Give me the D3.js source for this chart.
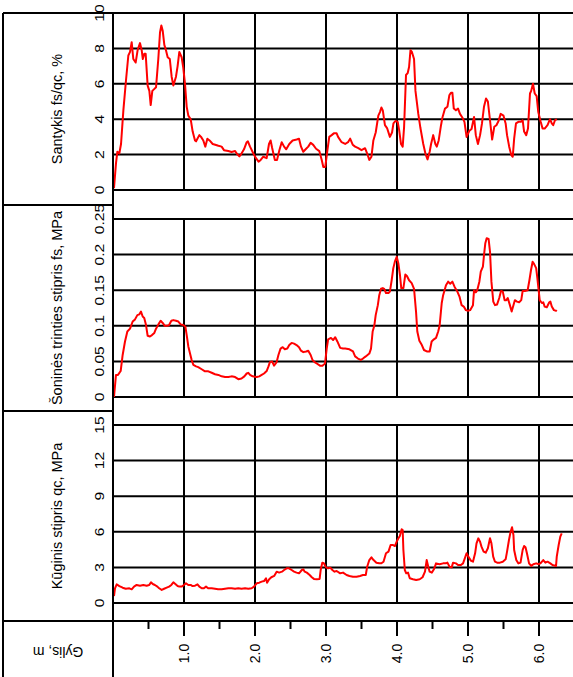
<!DOCTYPE html>
<html>
<head>
<meta charset="utf-8">
<script src="https://cdn.jsdelivr.net/npm/d3@7/dist/d3.min.js"></script>
<style>
  html, body { margin: 0; padding: 0; background: #fff; }
  svg { display: block; }
  text { font-family: "Liberation Sans", Arial, sans-serif; fill: #000; }
</style>
</head>
<body>
<svg id="chart" width="573" height="677"></svg>
<script>
// ---------- DATA ----------
const depthTicks = [1, 2, 3, 4, 5, 6];
const depthMinorTicks = [0.5, 1, 1.5, 2, 2.5, 3, 3.5, 4, 4.5, 5, 5.5, 6];

const ratioTicks = [0, 2, 4, 6, 8, 10];
const fsTicks = [0, 0.05, 0.1, 0.15, 0.2, 0.25];
const qcTicks = [0, 3, 6, 9, 12, 15];

const ratioDepth = [0.014,0.042,0.061,0.089,0.113,0.146,0.183,0.216,0.24,0.263,0.286,0.319,0.347,0.38,0.404,0.42,0.441,0.46,0.488,0.512,0.531,0.554,0.58,0.606,0.638,0.662,0.681,0.70,0.723,0.746,0.77,0.80,0.826,0.85,0.887,0.91,0.934,0.967,0.99,1.014,1.038,1.061,1.094,1.122,1.155,1.17,1.216,1.24,1.272,1.30,1.329,1.36,1.404,1.44,1.484,1.53,1.563,1.624,1.67,1.72,1.742,1.78,1.81,1.845,1.883,1.90,1.93,1.977,2.014,2.05,2.08,2.117,2.164,2.197,2.22,2.24,2.28,2.31,2.343,2.376,2.41,2.44,2.483,2.53,2.587,2.62,2.648,2.68,2.72,2.75,2.784,2.82,2.86,2.906,2.94,2.962,2.99,3.02,3.046,3.08,3.11,3.15,3.17,3.22,3.27,3.31,3.34,3.376,3.41,3.455,3.50,3.55,3.58,3.61,3.64,3.667,3.70,3.737,3.76,3.78,3.80,3.83,3.86,3.90,3.93,3.95,3.98,4.01,4.03,4.056,4.08,4.10,4.127,4.15,4.17,4.19,4.21,4.24,4.26,4.30,4.33,4.37,4.40,4.43,4.46,4.48,4.51,4.54,4.56,4.587,4.62,4.64,4.676,4.71,4.737,4.76,4.78,4.80,4.83,4.86,4.887,4.92,4.95,4.98,5.02,5.05,5.085,5.11,5.14,5.17,5.197,5.225,5.254,5.28,5.31,5.34,5.37,5.40,5.43,5.46,5.50,5.53,5.55,5.58,5.61,5.63,5.65,5.676,5.71,5.74,5.77,5.79,5.82,5.845,5.873,5.89,5.915,5.94,5.967,5.99,6.024,6.05,6.08,6.12,6.155,6.18,6.20,6.225,6.25];
const ratioValue = [0.1,1.5,2.16,2.06,2.6,4.5,6.2,7.6,7.8,8.35,7.4,7.2,7.9,8.3,7.9,7.4,7.7,7.7,5.9,5.6,4.8,5.6,5.7,5.8,7.4,8.9,9.3,9.0,8.2,7.9,7.5,7.4,6.4,5.9,6.4,7.0,7.8,7.5,6.9,6.0,4.7,4.2,4.0,3.3,2.8,2.75,3.1,3.0,2.8,2.45,2.9,2.8,2.6,2.56,2.5,2.45,2.25,2.2,2.15,2.2,2.06,1.9,2.06,2.3,2.7,2.75,2.45,2.06,1.8,1.6,1.7,1.88,1.8,2.6,2.8,2.4,1.7,1.7,2.25,2.7,2.45,2.3,2.6,2.8,2.85,2.9,2.45,2.16,2.33,2.45,2.67,2.55,2.33,2.2,1.7,1.3,1.3,2.25,3.0,3.1,3.2,3.2,3.0,2.7,2.6,2.7,2.9,2.56,2.45,2.36,2.25,2.36,2.06,1.7,1.88,2.8,3.25,4.2,4.4,4.66,4.5,3.66,3.5,3.0,3.25,3.76,3.9,3.85,3.4,2.6,2.45,3.57,6.5,6.6,6.95,7.9,7.8,7.4,5.6,4.3,3.5,2.6,2.06,1.73,2.16,2.6,3.1,2.6,2.45,2.8,3.66,4.1,4.6,4.7,5.35,5.5,5.5,4.6,4.5,4.6,4.3,4.1,3.85,3.0,3.35,3.45,4.13,3.1,2.6,3.1,3.76,4.7,5.17,5.0,3.94,2.85,3.57,3.66,3.9,4.3,4.2,3.76,3.1,2.45,1.97,1.88,2.9,3.76,3.85,3.85,3.94,3.3,3.1,3.47,5.45,5.6,6.0,5.45,5.3,4.4,3.85,3.47,3.47,3.66,4.0,3.76,3.66,3.94,4.0];

const fsDepth = [0.014,0.042,0.07,0.108,0.136,0.169,0.202,0.24,0.277,0.31,0.343,0.37,0.394,0.418,0.44,0.465,0.488,0.52,0.549,0.582,0.606,0.64,0.671,0.70,0.73,0.765,0.79,0.822,0.85,0.887,0.92,0.953,0.99,1.019,1.038,1.061,1.085,1.108,1.132,1.17,1.20,1.249,1.296,1.343,1.39,1.437,1.484,1.53,1.578,1.625,1.67,1.72,1.765,1.81,1.85,1.883,1.906,1.93,1.967,2.024,2.06,2.094,2.127,2.164,2.19,2.21,2.24,2.268,2.305,2.33,2.36,2.39,2.42,2.455,2.483,2.516,2.55,2.585,2.62,2.648,2.68,2.72,2.75,2.784,2.81,2.84,2.87,2.915,2.95,2.986,3.01,3.03,3.07,3.10,3.13,3.16,3.20,3.24,3.27,3.33,3.38,3.41,3.45,3.49,3.52,3.56,3.61,3.634,3.657,3.68,3.70,3.73,3.75,3.775,3.80,3.82,3.845,3.88,3.90,3.925,3.948,3.97,3.996,4.02,4.042,4.06,4.09,4.117,4.14,4.17,4.207,4.24,4.268,4.286,4.315,4.35,4.38,4.42,4.46,4.488,4.52,4.55,4.58,4.60,4.63,4.65,4.69,4.72,4.75,4.78,4.81,4.85,4.88,4.91,4.94,4.97,5.0,5.03,5.07,5.085,5.11,5.13,5.16,5.18,5.21,5.225,5.244,5.263,5.29,5.31,5.33,5.356,5.38,5.41,5.44,5.465,5.49,5.516,5.54,5.56,5.59,5.615,5.64,5.66,5.69,5.72,5.75,5.77,5.80,5.84,5.865,5.887,5.91,5.93,5.96,5.977,5.995,6.01,6.04,6.06,6.08,6.11,6.145,6.16,6.18,6.21,6.24,6.25];
const fsValue = [0,0.031,0.031,0.0365,0.059,0.078,0.092,0.096,0.106,0.109,0.115,0.116,0.12,0.113,0.111,0.101,0.086,0.085,0.087,0.09,0.096,0.102,0.107,0.104,0.10,0.10,0.101,0.107,0.108,0.107,0.106,0.102,0.101,0.099,0.087,0.071,0.061,0.052,0.045,0.043,0.042,0.039,0.036,0.036,0.034,0.032,0.031,0.029,0.028,0.028,0.029,0.028,0.025,0.026,0.029,0.033,0.034,0.031,0.029,0.028,0.029,0.031,0.033,0.0365,0.043,0.049,0.05,0.044,0.049,0.059,0.068,0.07,0.067,0.068,0.073,0.076,0.075,0.073,0.07,0.065,0.063,0.064,0.065,0.059,0.052,0.049,0.047,0.044,0.044,0.047,0.068,0.081,0.083,0.08,0.084,0.078,0.069,0.068,0.068,0.067,0.064,0.057,0.054,0.052,0.054,0.057,0.061,0.068,0.092,0.10,0.115,0.129,0.143,0.152,0.153,0.152,0.146,0.146,0.148,0.164,0.181,0.19,0.197,0.187,0.171,0.153,0.153,0.172,0.17,0.164,0.16,0.152,0.12,0.092,0.079,0.073,0.066,0.064,0.064,0.078,0.081,0.083,0.092,0.10,0.132,0.143,0.157,0.162,0.159,0.162,0.155,0.148,0.141,0.129,0.127,0.122,0.121,0.122,0.129,0.15,0.147,0.15,0.162,0.176,0.183,0.199,0.216,0.223,0.222,0.204,0.162,0.134,0.129,0.13,0.139,0.149,0.148,0.136,0.136,0.139,0.129,0.12,0.129,0.136,0.134,0.133,0.136,0.149,0.149,0.15,0.164,0.178,0.19,0.187,0.181,0.167,0.15,0.136,0.132,0.133,0.127,0.126,0.133,0.134,0.127,0.122,0.121,0.122];

const qcDepth = [0.014,0.028,0.052,0.09,0.136,0.18,0.23,0.263,0.296,0.333,0.38,0.427,0.474,0.51,0.535,0.56,0.59,0.625,0.65,0.686,0.72,0.756,0.79,0.822,0.85,0.878,0.91,0.934,0.967,1.0,1.028,1.06,1.094,1.12,1.155,1.19,1.216,1.25,1.28,1.31,1.34,1.39,1.437,1.48,1.53,1.578,1.625,1.67,1.72,1.765,1.81,1.86,1.906,1.953,1.986,2.024,2.06,2.094,2.127,2.155,2.17,2.2,2.23,2.27,2.305,2.34,2.38,2.41,2.446,2.48,2.516,2.55,2.585,2.62,2.66,2.68,2.70,2.73,2.77,2.80,2.83,2.87,2.91,2.925,2.948,2.97,3.0,3.03,3.06,3.09,3.12,3.15,3.2,3.24,3.29,3.33,3.38,3.43,3.48,3.52,3.56,3.58,3.61,3.64,3.67,3.71,3.75,3.78,3.81,3.845,3.88,3.91,3.94,3.97,3.996,4.02,4.04,4.066,4.08,4.09,4.11,4.13,4.155,4.18,4.225,4.27,4.32,4.36,4.394,4.418,4.44,4.46,4.49,4.52,4.55,4.6,4.65,4.69,4.71,4.74,4.77,4.79,4.83,4.86,4.9,4.93,4.95,4.98,5.0,5.04,5.07,5.1,5.12,5.145,5.17,5.19,5.22,5.25,5.28,5.31,5.33,5.355,5.38,5.41,5.45,5.49,5.53,5.55,5.577,5.6,5.62,5.64,5.65,5.68,5.71,5.74,5.77,5.79,5.81,5.83,5.86,5.89,5.92,5.96,6.0,6.03,6.06,6.09,6.12,6.16,6.19,6.24,6.25,6.277,6.3,6.32];
const qcValue = [0.59,1.24,1.57,1.43,1.29,1.2,1.24,1.15,1.38,1.52,1.46,1.52,1.46,1.52,1.74,1.6,1.52,1.38,1.24,1.1,1.2,1.29,1.38,1.52,1.74,1.6,1.43,1.38,1.38,1.52,1.66,1.52,1.52,1.43,1.46,1.57,1.38,1.24,1.24,1.38,1.24,1.24,1.2,1.15,1.15,1.2,1.24,1.24,1.2,1.24,1.2,1.24,1.2,1.24,1.38,1.66,1.71,1.8,1.85,2.08,1.71,2.0,2.17,2.28,2.64,2.56,2.64,2.78,2.92,2.92,2.78,2.64,2.56,2.5,2.78,2.84,2.64,2.56,2.36,2.17,2.03,2.0,2.03,2.78,3.4,3.35,3.0,2.92,2.98,2.78,2.64,2.7,2.5,2.56,2.36,2.28,2.22,2.22,2.28,2.36,2.36,3.06,3.62,3.85,3.62,3.4,3.35,3.35,3.48,4.19,4.33,4.89,4.89,4.8,5.17,5.45,5.65,6.21,6.15,4.47,2.78,2.5,2.56,2.08,2.0,1.94,2.0,2.17,2.64,3.62,3.06,2.64,2.56,2.84,3.34,3.26,3.34,3.34,3.4,3.06,3.0,3.4,3.34,3.2,3.2,3.34,3.68,4.19,3.96,3.57,3.48,4.19,5.03,5.45,5.17,4.75,4.33,4.24,4.61,5.45,5.03,3.91,3.48,3.4,3.4,3.48,3.68,4.33,5.31,6.0,6.38,5.73,4.47,3.62,3.34,3.4,4.47,4.8,4.7,4.19,3.34,3.12,3.26,3.34,3.26,3.4,3.62,3.4,3.48,3.34,3.2,3.12,3.91,4.89,5.59,5.87];

// ---------- LAYOUT ----------
const W = 573, H = 677;
const plotLeft = 113, plotRight = 574.5, boxLeft = 3;
const axisY = 621;

const x = d3.scaleLinear().domain([0, 6.5]).range([plotLeft, plotRight]);

const panels = [
  { title: "Santykis fs/qc, %", domain: [0, 10], range: [190, 13], ticks: ratioTicks, fmt: d3.format("d"),
    depth: ratioDepth, values: ratioValue, boxTop: 13, boxBottom: 205 },
  { title: "Šoninės trinties stipris fs, MPa", domain: [0, 0.25], range: [397, 219], ticks: fsTicks, fmt: d => String(+d.toFixed(2)),
    depth: fsDepth, values: fsValue, boxTop: 205, boxBottom: 411 },
  { title: "Kūginis stipris qc, MPa", domain: [0, 15], range: [603, 425], ticks: qcTicks, fmt: d3.format("d"),
    depth: qcDepth, values: qcValue, boxTop: 411, boxBottom: 621 }
];

const svg = d3.select("#chart");
const lineColor = "#000";
const gridW = 2;

panels.forEach(p => {
  const y = d3.scaleLinear().domain(p.domain).range(p.range);
  const g = svg.append("g");

  // vertical grid lines (depth) within the panel
  g.selectAll("line.v").data(depthTicks).enter().append("line")
    .attr("x1", d => x(d)).attr("x2", d => x(d))
    .attr("y1", y(p.domain[1])).attr("y2", y(p.domain[0]))
    .attr("stroke", lineColor).attr("stroke-width", gridW);

  // horizontal grid lines
  g.selectAll("line.h").data(p.ticks).enter().append("line")
    .attr("x1", plotLeft).attr("x2", W + 2)
    .attr("y1", d => y(d)).attr("y2", d => y(d))
    .attr("stroke", lineColor).attr("stroke-width", gridW);

  // tick labels (rotated, slightly stretched along the text)
  g.selectAll("text.tick").data(p.ticks).enter().append("text")
    .attr("transform", d => `translate(103.5,${y(d)}) rotate(-90) scale(1.25,1)`)
    .attr("text-anchor", "middle")
    .attr("font-size", 12.5)
    .text(p.fmt);

  // axis title
  g.append("text")
    .attr("transform", `translate(62,${(p.boxTop + p.boxBottom) / 2}) rotate(-90)`)
    .attr("text-anchor", "middle")
    .attr("font-size", 14.5)
    .text(p.title);

  // data line
  const pts = p.depth.map((d, i) => [d, p.values[i]]);
  g.append("path")
    .datum(pts)
    .attr("fill", "none")
    .attr("stroke", "#ff0000")
    .attr("stroke-width", 2)
    .attr("stroke-linejoin", "round")
    .attr("d", d3.line().x(d => x(d[0])).y(d => y(d[1])));
});

// left column frame
const frame = svg.append("g").attr("stroke", lineColor).attr("stroke-width", gridW);
frame.append("line").attr("x1", boxLeft).attr("x2", boxLeft).attr("y1", 13).attr("y2", H + 2);
frame.append("line").attr("x1", plotLeft).attr("x2", plotLeft).attr("y1", 13).attr("y2", H + 2);
frame.append("line").attr("x1", boxLeft).attr("x2", plotLeft).attr("y1", 13).attr("y2", 13);
[205, 411].forEach(yy => frame.append("line").attr("x1", boxLeft).attr("x2", plotLeft).attr("y1", yy).attr("y2", yy));
frame.append("line").attr("x1", boxLeft).attr("x2", W + 2).attr("y1", axisY).attr("y2", axisY);

// depth axis ticks
svg.append("g").selectAll("line").data(depthMinorTicks).enter().append("line")
  .attr("x1", d => x(d)).attr("x2", d => x(d))
  .attr("y1", axisY).attr("y2", d => Number.isInteger(d) ? axisY + 15 : axisY + 8)
  .attr("stroke", lineColor).attr("stroke-width", gridW);

svg.append("g").selectAll("text").data(depthTicks).enter().append("text")
  .attr("transform", d => `translate(${x(d) + 5},653.5) rotate(-90)`)
  .attr("text-anchor", "middle")
  .attr("font-size", 14)
  .text(d3.format(".1f"));

// depth axis title (upside down)
svg.append("text")
  .attr("transform", "translate(58,647) rotate(180)")
  .attr("text-anchor", "middle")
  .attr("font-size", 14)
  .text("Gylis, m");
</script>
</body>
</html>
